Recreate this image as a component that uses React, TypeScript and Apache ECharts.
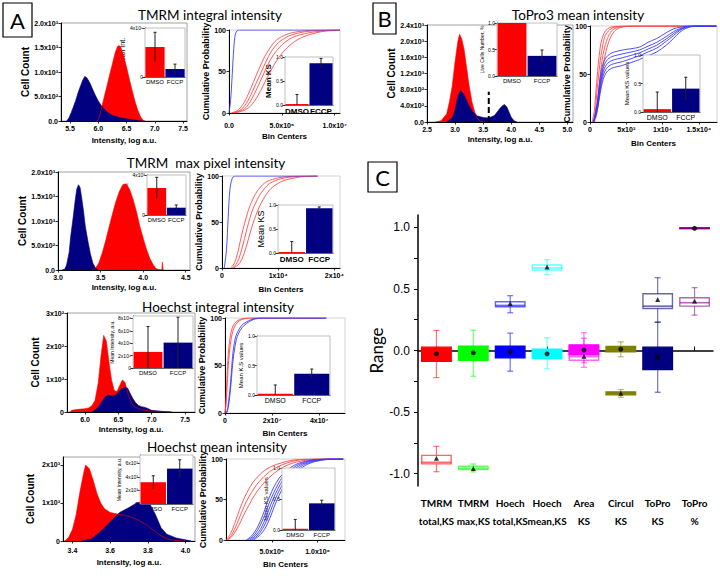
import React, { useEffect, useRef } from "react";
import * as echarts from "echarts";

// ---------------- DATA ----------------
const RED = "#ff0000";
const NAVY = "#000080";
const insetGroups = ["DMSO", "FCCP"];

// Row 1: TMRM integral intensity histogram [log a.u., cell count]
const tmrmIntRed = [[5.98,0],[6.02,80],[6.05,230],[6.1,470],[6.15,700],[6.2,940],[6.25,1170],[6.3,1400],[6.34,1520],[6.37,1540],[6.4,1500],[6.45,1320],[6.5,1100],[6.55,850],[6.6,620],[6.65,400],[6.7,220],[6.75,80],[6.8,10],[6.83,0]];
const tmrmIntBlue = [[5.44,0],[5.48,60],[5.52,170],[5.56,290],[5.6,420],[5.64,570],[5.68,700],[5.72,820],[5.76,910],[5.8,880],[5.85,780],[5.9,650],[5.95,520],[6.0,410],[6.05,320],[6.1,250],[6.15,190],[6.2,150],[6.25,120],[6.3,95],[6.4,65],[6.5,45],[6.6,25],[6.7,10],[6.8,0]];
const tmrmIntMean = [2.45e5, 0.65e5];
const tmrmIntMeanErr = [1.2e5, 0.4e5];
const tmrmIntCdfBlue = [[[0,0],[1.5e5,15],[3e5,45],[4.5e5,78],[6e5,95],[8e5,99.5],[1e6,100],[1.05e7,100]]];
const tmrmIntCdfRed = [
  [[2e5,0],[8e5,3],[1.3e6,10],[1.8e6,22],[2.3e6,37],[2.8e6,52],[3.3e6,66],[3.8e6,77],[4.5e6,88],[5.5e6,95],[6.5e6,98],[8e6,99.6],[1.05e7,100]],
  [[3e5,0],[1e6,3],[1.5e6,9],[2e6,20],[2.5e6,34],[3e6,48],[3.5e6,62],[4e6,74],[4.7e6,85],[5.7e6,93],[7e6,97.5],[8.5e6,99.5],[1.05e7,100]],
  [[4e5,0],[1.2e6,3],[1.7e6,8],[2.2e6,18],[2.7e6,31],[3.2e6,45],[3.7e6,59],[4.2e6,70],[5e6,82],[6e6,91],[7.5e6,96.5],[9e6,99],[1.05e7,100]],
  [[5e5,0],[1.4e6,3],[2e6,8],[2.5e6,16],[3e6,27],[3.5e6,40],[4e6,52],[4.5e6,63],[5.3e6,76],[6.3e6,87],[7.5e6,94],[9e6,98.5],[1.05e7,99.5]],
];
const tmrmIntKS = [0.02, 0.87];
const tmrmIntKSErr = [0.2, 0.1];

// Row 2: TMRM max pixel intensity
const tmrmMaxRed = [[3.4,0],[3.44,30],[3.48,150],[3.52,350],[3.56,600],[3.6,880],[3.64,1150],[3.68,1400],[3.72,1600],[3.76,1740],[3.8,1760],[3.84,1650],[3.88,1450],[3.92,1200],[3.96,900],[4.0,650],[4.04,420],[4.08,230],[4.12,100],[4.15,30],[4.18,10],[4.22,5],[4.225,160],[4.235,0]];
const tmrmMaxBlue = [[3.05,0],[3.08,20],[3.1,100],[3.13,350],[3.15,700],[3.18,1100],[3.2,1400],[3.22,1650],[3.24,1740],[3.26,1680],[3.28,1450],[3.3,1200],[3.32,900],[3.35,600],[3.38,330],[3.41,140],[3.44,40],[3.47,0]];
const tmrmMaxMean = [2.7e3, 0.73e3];
const tmrmMaxMeanErr = [1.07e3, 0.27e3];
const tmrmMaxCdfBlue = [[[4e2,0],[8e2,20],[1.1e3,55],[1.4e3,85],[1.8e3,97],[2.3e3,100],[1.7e4,100]]];
const tmrmMaxCdfRed = [
  [[1.5e3,0],[2e3,3],[2.5e3,10],[3e3,22],[3.5e3,36],[4e3,48],[4.5e3,59],[5e3,68],[6e3,81],[7e3,89],[8e3,94],[1e4,98],[1.2e4,99.5],[1.7e4,100]],
  [[1.8e3,0],[2.4e3,3],[3e3,10],[3.5e3,20],[4e3,32],[4.5e3,44],[5e3,55],[5.5e3,64],[6.5e3,77],[7.5e3,86],[8.5e3,92],[1.05e4,97],[1.3e4,99.3],[1.7e4,100]],
  [[2e3,0],[2.8e3,3],[3.5e3,9],[4e3,17],[4.5e3,27],[5e3,38],[5.5e3,48],[6e3,57],[7e3,71],[8e3,81],[9e3,88],[1.1e4,95],[1.4e4,99],[1.7e4,100]],
];
const tmrmMaxKS = [0.02, 0.93];
const tmrmMaxKSErr = [0.22, 0.03];

// Row 3: Hoechst integral intensity
const hoeIntRed = [[5.78,0],[5.8,5],[5.9,8],[6.0,10],[6.05,12],[6.1,18],[6.15,35],[6.2,90],[6.24,170],[6.28,232],[6.32,215],[6.36,150],[6.4,95],[6.44,65],[6.48,62],[6.52,80],[6.56,97],[6.6,90],[6.64,60],[6.68,35],[6.72,20],[6.8,10],[6.9,5],[7.0,3],[7.2,1],[7.3,0]];
const hoeIntBlue = [[6.1,0],[6.15,5],[6.2,15],[6.25,30],[6.3,45],[6.35,52],[6.4,48],[6.45,50],[6.5,60],[6.55,70],[6.6,76],[6.64,72],[6.68,55],[6.72,40],[6.76,28],[6.8,20],[6.85,16],[6.9,14],[6.95,10],[7.0,5],[7.1,3],[7.2,1],[7.3,0]];
const hoeIntMean = [2.6e6, 4.1e6];
const hoeIntMeanErr = [4.1e6, 4.1e6];
const hoeIntCdfRed = [
  [[0,0],[4e5,12],[8e5,35],[1.2e6,55],[1.6e6,68],[2.2e6,80],[3e6,89],[4e6,94],[5.5e6,97.5],[7e6,99],[9e6,100],[4.3e7,100]],
  [[0,0],[5e5,10],[1e6,32],[1.4e6,50],[1.9e6,64],[2.5e6,76],[3.3e6,86],[4.5e6,93],[6e6,97],[8e6,99],[1e7,100],[4.3e7,100]],
];
const hoeIntCdfBlue = [
  [[6e5,0],[1.2e6,6],[1.8e6,18],[2.4e6,33],[3e6,53],[3.5e6,66],[4.5e6,80],[5.5e6,86],[7e6,92],[8.5e6,95],[1e7,97],[1.2e7,99],[1.5e7,100],[4.3e7,100]],
  [[8e5,0],[1.4e6,6],[2e6,17],[2.6e6,32],[3.2e6,50],[3.8e6,63],[4.8e6,77],[5.8e6,84],[7.3e6,90],[9e6,94],[1.05e7,96.5],[1.25e7,98.8],[1.6e7,100],[4.3e7,100]],
];
const hoeIntKS = [0.02, 0.36];
const hoeIntKSErr = [0.15, 0.08];

// Row 4: Hoechst mean intensity
const hoeMeanRed = [[3.36,0],[3.38,100],[3.4,300],[3.42,700],[3.44,1300],[3.46,1800],[3.47,2000],[3.49,1900],[3.51,1600],[3.53,1250],[3.55,1000],[3.57,850],[3.6,750],[3.65,700],[3.7,650],[3.75,550],[3.8,400],[3.85,200],[3.9,60],[3.95,10],[4.0,0]];
const hoeMeanBlue = [[3.45,0],[3.5,50],[3.55,250],[3.6,500],[3.65,750],[3.7,880],[3.74,1000],[3.78,1050],[3.81,980],[3.84,700],[3.87,350],[3.9,180],[3.95,80],[4.0,30],[4.03,0]];
const hoeMeanMean = [3.2e3, 5.2e3];
const hoeMeanMeanErr = [0.95e3, 1.3e3];
const hoeMeanCdfRed = [
  [[0,0],[5e4,8],[1e5,22],[1.5e5,38],[2e5,52],[2.5e5,63],[3e5,72],[4e5,84],[5e5,91],[6e5,95],[7e5,98],[8e5,99.5],[1e6,100],[1.28e6,100]],
  [[1e4,0],[6e4,6],[1.2e5,20],[1.7e5,34],[2.2e5,47],[2.8e5,59],[3.4e5,69],[4.4e5,81],[5.4e5,89],[6.4e5,94],[7.4e5,97.5],[8.5e5,99.3],[1.05e6,100],[1.28e6,100]],
  [[2e4,0],[7e4,5],[1.4e5,18],[1.9e5,30],[2.5e5,43],[3.1e5,55],[3.8e5,66],[4.8e5,78],[5.8e5,87],[6.8e5,93],[7.8e5,96.5],[9e5,99],[1.1e6,100],[1.28e6,100]],
];
const hoeMeanCdfBlue = [
  [[2.2e5,0],[2.8e5,5],[3.4e5,15],[4e5,30],[4.5e5,46],[5e5,60],[5.5e5,71],[6e5,79],[7e5,89],[8e5,95],[9e5,98],[1e6,99.5],[1.1e6,100],[1.28e6,100]],
  [[2.4e5,0],[3e5,5],[3.6e5,15],[4.2e5,30],[4.7e5,45],[5.2e5,58],[5.7e5,69],[6.2e5,78],[7.2e5,88],[8.2e5,94.5],[9.2e5,97.8],[1.02e6,99.4],[1.12e6,100],[1.28e6,100]],
  [[2.6e5,0],[3.2e5,5],[3.8e5,14],[4.4e5,29],[4.9e5,44],[5.4e5,57],[5.9e5,68],[6.4e5,77],[7.4e5,87],[8.4e5,94],[9.4e5,97.5],[1.04e6,99.3],[1.14e6,100],[1.28e6,100]],
  [[2.8e5,0],[3.4e5,5],[4e5,14],[4.6e5,28],[5.1e5,43],[5.6e5,56],[6.1e5,67],[6.6e5,76],[7.6e5,86],[8.6e5,93.5],[9.6e5,97.2],[1.06e6,99.2],[1.16e6,100],[1.28e6,100]],
  [[3e5,0],[3.6e5,5],[4.2e5,13],[4.8e5,27],[5.3e5,42],[5.8e5,55],[6.3e5,66],[6.8e5,75],[7.8e5,85],[8.8e5,93],[9.8e5,97],[1.08e6,99],[1.18e6,100],[1.28e6,100]],
];
const hoeMeanKS = [0.02, 0.43];
const hoeMeanKSErr = [0.15, 0.05];

// Panel B: ToPro3 mean intensity
const toproRed = [[2.65,0],[2.75,30],[2.85,200],[2.9,500],[2.95,900],[3.0,1500],[3.05,2000],[3.08,2170],[3.12,2050],[3.16,1800],[3.2,1400],[3.25,900],[3.3,500],[3.35,250],[3.4,80],[3.45,20],[3.5,0]];
const toproBlue = [[2.85,0],[2.95,100],[3.0,300],[3.05,650],[3.1,780],[3.15,700],[3.2,550],[3.25,400],[3.3,280],[3.35,200],[3.4,150],[3.5,110],[3.6,100],[3.7,160],[3.75,250],[3.8,340],[3.85,410],[3.88,430],[3.92,380],[3.96,250],[4.0,120],[4.05,30],[4.1,0]];
const toproThreshold = [[3.6,0],[3.6,750]];
const toproLive = [1.0, 0.38];
const toproLiveErr = [0.01, 0.11];
const toproCdfRed = [
  [[3e2,0],[6e2,12],[9e2,40],[1.2e3,65],[1.5e3,82],[1.9e3,92],[2.4e3,97],[3e3,99],[4e3,99.8],[5e3,100],[1.74e4,100]],
  [[4e2,0],[7e2,10],[1e3,35],[1.35e3,60],[1.7e3,78],[2.1e3,90],[2.7e3,96],[3.4e3,98.8],[4.4e3,99.8],[5.5e3,100],[1.74e4,100]],
  [[5e2,0],[8e2,8],[1.15e3,30],[1.5e3,55],[1.9e3,74],[2.4e3,87],[3e3,95],[3.8e3,98.5],[4.8e3,99.7],[6e3,100],[1.74e4,100]],
  [[6e2,0],[9e2,7],[1.25e3,26],[1.65e3,50],[2.1e3,70],[2.6e3,84],[3.3e3,94],[4.1e3,98.2],[5.2e3,99.6],[6.5e3,100],[1.74e4,100]],
];
const toproCdfBlue = [
  [[5e2,0],[1e3,12],[1.4e3,30],[1.8e3,44],[2.3e3,52],[3e3,56],[4.5e3,59],[6.8e3,65],[8e3,69],[9.2e3,73],[1.05e4,80],[1.15e4,87],[1.23e4,93],[1.32e4,97.5],[1.42e4,99.6],[1.5e4,100],[1.74e4,100]],
  [[5e2,0],[1e3,14],[1.4e3,34],[1.8e3,48],[2.3e3,56],[3e3,60],[4.5e3,63],[6.8e3,69],[8e3,73],[9.2e3,77],[1.05e4,84],[1.15e4,90],[1.23e4,95],[1.32e4,98.5],[1.42e4,99.8],[1.5e4,100],[1.74e4,100]],
  [[5e2,0],[1e3,16],[1.4e3,38],[1.8e3,52],[2.3e3,60],[3e3,64],[4.5e3,67],[6.8e3,72],[8e3,76],[9.2e3,80],[1.05e4,86.5],[1.15e4,92],[1.23e4,96],[1.32e4,99],[1.42e4,99.9],[1.5e4,100],[1.74e4,100]],
  [[5e2,0],[1e3,18],[1.4e3,42],[1.8e3,56],[2.3e3,64],[3e3,68],[4.5e3,71],[6.8e3,75],[8e3,79],[9.2e3,83],[1.05e4,89],[1.15e4,94],[1.23e4,97],[1.32e4,99.3],[1.42e4,100],[1.5e4,100],[1.74e4,100]],
  [[5e2,0],[1e3,20],[1.4e3,46],[1.8e3,61],[2.3e3,68],[3e3,72],[4.5e3,75],[6.8e3,78],[8e3,83],[9.2e3,87],[1.05e4,93],[1.15e4,97],[1.23e4,98.5],[1.32e4,99.6],[1.42e4,100],[1.5e4,100],[1.74e4,100]],
];
const toproKS = [0.05, 0.41];
const toproKSErr = [0.3, 0.2];

// Panel C: box plot of ranges
const boxCategories = ["TMRM\ntotal,KS", "TMRM\nmax,KS", "Hoech\ntotal,KS", "Hoech\nmean,KS", "Area\nKS", "Circul\nKS", "ToPro\nKS", "ToPro\n%"];
const boxColors = ["#ff0000", "#00ff00", "#0000ff", "#00ffff", "#ff00ff", "#808000", "#000080", "#800080"];
// [min, q1, median, q3, max]
const boxNearStats = [
  [-0.22, -0.087, -0.03, 0.027, 0.163],
  [-0.209, -0.079, -0.02, 0.035, 0.165],
  [-0.168, -0.06, -0.01, 0.035, 0.141],
  [-0.149, -0.065, -0.025, 0.011, 0.103],
  [-0.1, -0.035, 0.0, 0.046, 0.144],
  [-0.051, -0.011, 0.01, 0.033, 0.07],
  [-0.339, -0.154, -0.06, 0.027, 0.23],
  [0.986, 0.989, 0.992, 0.996, 0.998],
];
const boxNearMeans = [-0.027, -0.019, -0.011, -0.027, 0.003, 0.011, -0.054, 0.992];
const boxFarStats = [
  [-0.984, -0.92, -0.908, -0.851, -0.778],
  [-0.986, -0.967, -0.957, -0.94, -0.921],
  [0.306, 0.355, 0.366, 0.396, 0.445],
  [0.615, 0.653, 0.67, 0.694, 0.737],
  [-0.136, -0.079, -0.05, 0.03, 0.1],
  [-0.38, -0.36, -0.348, -0.336, -0.317],
  [0.23, 0.341, 0.36, 0.461, 0.591],
  [0.287, 0.36, 0.388, 0.428, 0.51],
];
const boxFarMeans = [-0.875, -0.957, 0.382, 0.677, -0.046, -0.347, 0.415, 0.401];
const boxFarFilled = [false, false, false, false, false, true, false, false];
const rangeTicks = [-1.0, -0.5, 0.0, 0.5, 1.0];

// ---------------- HELPERS ----------------
const AF = "Liberation Sans";
const TF = "Lato";
const SUP: Record<string, string> = { "0": "⁰", "1": "¹", "2": "²", "3": "³", "4": "⁴", "5": "⁵", "6": "⁶", "7": "⁷", "8": "⁸", "9": "⁹", "-": "⁻" };
function sci(v: number, dec: number, zero = "0") {
  if (v === 0) return zero;
  const e = Math.floor(Math.log10(Math.abs(v)) + 1e-9);
  const m = v / Math.pow(10, e);
  return m.toFixed(dec) + "x10" + String(e).split("").map((c) => SUP[c]).join("");
}
function hexA(hex: string, a: number) {
  const n = parseInt(hex.slice(1), 16);
  return `rgba(${(n >> 16) & 255},${(n >> 8) & 255},${n & 255},${a})`;
}

function buildOption() {
  const G: any[] = [], XA: any[] = [], YA: any[] = [], S: any[] = [], GR: any[] = [];

  function addGrid(l: number, t: number, r: number, b: number, x: any, y: any, bg?: string, border = "#8a8a8a") {
    const i = G.length;
    G.push({ left: l, top: t, width: r - l, height: b - t, show: true, borderColor: border, borderWidth: 0.8, backgroundColor: bg || "rgba(0,0,0,0)", outerBoundsMode: "none", z: bg ? 3 : 0 });
    XA.push({ gridIndex: i, ...x });
    YA.push({ gridIndex: i, ...y });
    return i;
  }
  function vAxis(min: number, max: number, labels: number[], fmt: (v: number) => string, o: any = {}) {
    return {
      type: "value", min, max,
      axisLine: { show: true, onZero: false, lineStyle: { color: "#000", width: 1 } },
      axisTick: { show: true, customValues: o.ticks || labels, length: 2.5, lineStyle: { color: "#000", width: 0.8 } },
      axisLabel: { customValues: labels, formatter: fmt, fontFamily: AF, fontSize: o.fs || 7, fontWeight: o.normal ? "normal" : "bold", color: "#000", margin: o.margin ?? 3, hideOverlap: false, showMinLabel: true, showMaxLabel: true },
      splitLine: { show: false },
      name: o.name, nameLocation: "middle", nameGap: o.gap, nameRotate: o.rot,
      nameTextStyle: { fontFamily: AF, fontWeight: o.nnormal ? "normal" : "bold", fontSize: o.nfs || 9, color: "#000" },
      z: o.z,
    };
  }
  function cAxis(bold: boolean, fs = 6) {
    return {
      type: "category", data: insetGroups,
      axisLine: { show: true, lineStyle: { color: "#000", width: 0.8 } },
      axisTick: { show: false },
      axisLabel: { fontFamily: AF, fontSize: fs, fontWeight: bold ? "bold" : "normal", color: "#000", margin: 2, interval: 0 },
      splitLine: { show: false },
    };
  }
  function addHist(rect: number[], xr: number[], xl: number[], xfmt: any, ymax: number, yl: number[], yfmt: any, red: number[][], blue: number[][], o: any) {
    const i = addGrid(rect[0], rect[1], rect[2], rect[3],
      vAxis(xr[0], xr[1], xl, xfmt, { name: "Intensity, log a.u.", gap: o.xgap, nfs: 8, margin: o.xm ?? 4 }),
      vAxis(0, ymax, yl, yfmt, { name: "Cell Count", gap: o.ygap, nfs: 10 }));
    S.push({ type: "line", xAxisIndex: i, yAxisIndex: i, data: red, showSymbol: false, lineStyle: { width: 0.6, color: RED }, areaStyle: { color: RED, opacity: 1 }, z: 2 });
    S.push({ type: "line", xAxisIndex: i, yAxisIndex: i, data: blue, showSymbol: false, lineStyle: { width: 0.6, color: NAVY }, areaStyle: { color: NAVY, opacity: 1 }, z: 2 });
    return i;
  }
  function addBars(rect: number[], vals: number[], errs: number[], ymax: number, yl: number[], yfmt: any, o: any) {
    const i = addGrid(rect[0], rect[1], rect[2], rect[3], cAxis(!!o.bold, o.cfs || 6),
      vAxis(0, ymax, yl, yfmt, { name: o.name, gap: o.gap, nfs: o.nfs || 6, fs: o.fs || 5, normal: true, nnormal: !o.nbold, ticks: o.ticks, margin: 2 }), "#ffffff", "#b0b0b0");
    S.push({ type: "bar", xAxisIndex: i, yAxisIndex: i, barCategoryGap: "4%", z: 4,
      data: vals.map((v, k) => ({ value: v, itemStyle: { color: k ? NAVY : RED } })) });
    S.push({
      type: "custom", xAxisIndex: i, yAxisIndex: i, z: 6, clip: true,
      data: vals.map((v, k) => [k, v, errs[k]]),
      renderItem: (_p: any, api: any) => {
        const k = api.value(0), v = api.value(1), e = api.value(2);
        const t = api.coord([k, v + e]);
        const b = api.coord([k, v - e]);
        return { type: "group", children: [
          { type: "line", shape: { x1: t[0], y1: t[1], x2: b[0], y2: b[1] }, style: { stroke: "#222", lineWidth: 1 } },
          { type: "line", shape: { x1: t[0] - 1.5, y1: t[1], x2: t[0] + 1.5, y2: t[1] }, style: { stroke: "#222", lineWidth: 1 } },
        ] };
      },
    });
    return i;
  }
  function addCdf(rect: number[], xmax: number, xl: number[], xfmt: any, reds: number[][][], blues: number[][][], o: any) {
    const i = addGrid(rect[0], rect[1], rect[2], rect[3],
      vAxis(0, xmax, xl, xfmt, { name: "Bin Centers", gap: o.xgap, nfs: 8, margin: o.xm ?? 4 }),
      vAxis(0, 100, [0, 50, 100], (v: number) => String(v), { name: "Cumulative Probability", gap: o.ygap, nfs: 9 }), undefined, "#c8c8c8");
    reds.forEach((d) => S.push({ type: "line", xAxisIndex: i, yAxisIndex: i, data: d, smooth: 0.3, showSymbol: false, lineStyle: { width: 0.9, color: "#ff4a4a" }, z: 2 }));
    blues.forEach((d) => S.push({ type: "line", xAxisIndex: i, yAxisIndex: i, data: d, smooth: 0.3, showSymbol: false, lineStyle: { width: 0.9, color: "#3a3aff" }, z: 2 }));
    return i;
  }
  const f1 = (v: number) => v.toFixed(1);
  const ks = (v: number) => v.toFixed(1);

  // ---------- Row 1 ----------
  addHist([61, 23, 187, 121], [5.34, 7.57], [5.5, 6, 6.5, 7, 7.5], f1, 2000, [0, 500, 1000, 1500, 2000], (v: number) => sci(v, 1, "0.0"), tmrmIntRed, tmrmIntBlue, { xgap: 15, ygap: 30 });
  addBars([145, 28, 185, 77], tmrmIntMean, tmrmIntMeanErr, 4e5, [0, 4e5], (v: number) => sci(v, 0), { name: "Mean Int.", gap: 6, nfs: 7 });
  addCdf([229, 30, 340, 113], 1.05e7, [0, 5e6, 1e7], (v: number) => sci(v, 1, "0.0"), tmrmIntCdfRed, tmrmIntCdfBlue, { xgap: 19, ygap: 16, xm: 9 });
  addBars([285, 57, 333, 105], tmrmIntKS, tmrmIntKSErr, 1, [0, 0.5, 1], ks, { name: "Mean KS", gap: 9, nfs: 8, nbold: true, bold: true, cfs: 8 });

  // ---------- Row 2 ----------
  addHist([58, 172, 190, 270], [3.0, 4.55], [3.0, 3.5, 4.0, 4.5], f1, 2000, [0, 500, 1000, 1500, 2000], (v: number) => sci(v, 1, "0.0"), tmrmMaxRed, tmrmMaxBlue, { xgap: 13, ygap: 28 });
  addBars([147, 175, 186, 215], tmrmMaxMean, tmrmMaxMeanErr, 4e3, [0, 4e3], (v: number) => sci(v, 0), { name: "Mean Int.", gap: 6, nfs: 6 });
  addCdf([222, 176, 340, 268], 2.1e4, [0, 1e4, 2e4], (v: number) => sci(v, 0), tmrmMaxCdfRed, tmrmMaxCdfBlue, { xgap: 17, ygap: 14 });
  addBars([278, 205, 333, 253], tmrmMaxKS, tmrmMaxKSErr, 1, [0, 0.5, 1], ks, { name: "Mean KS", gap: 9, nfs: 9, bold: true, cfs: 8 });

  // ---------- Row 3 ----------
  addHist([67, 313, 195, 412], [5.73, 7.65], [6.0, 6.5, 7.0, 7.5], f1, 300, [0, 100, 200, 300], (v: number) => sci(v, 0), hoeIntRed, hoeIntBlue, { xgap: 13, ygap: 27 });
  addBars([133, 316, 193, 368], hoeIntMean, hoeIntMeanErr, 8.4e6, [0, 2e6, 4e6, 6e6, 8e6], (v: number) => sci(v, 0), { name: "Mean Intensity, a.u.", gap: 14, nfs: 5 });
  addCdf([225, 318, 345, 413], 5.1e7, [0, 2e7, 4e7], (v: number) => sci(v, 0), hoeIntCdfRed, hoeIntCdfBlue, { xgap: 16, ygap: 14 });
  addBars([257, 336, 330, 395], hoeIntKS, hoeIntKSErr, 1, [0, 0.5, 1], ks, { name: "Mean K.S values", gap: 8, nfs: 6, cfs: 7 });

  // ---------- Row 4 ----------
  addHist([63, 457, 195, 541], [3.35, 4.05], [3.4, 3.6, 3.8, 4.0], f1, 2210, [0, 1000, 2000], (v: number) => sci(v, 0), hoeMeanRed, hoeMeanBlue, { xgap: 17, ygap: 28, xm: 6 });
  addBars([140, 455, 193, 504], hoeMeanMean, hoeMeanMeanErr, 7.2e3, [0, 2e3, 4e3, 6e3], (v: number) => sci(v, 0), { name: "Mean Intensity, a.u.", gap: 13, nfs: 5 });
  addCdf([226, 459, 345, 540], 1.3e6, [5e5, 1e6], (v: number) => sci(v, 1), hoeMeanCdfRed, hoeMeanCdfBlue, { xgap: 20, ygap: 14, xm: 8 });
  addBars([282, 468, 335, 530], hoeMeanKS, hoeMeanKSErr, 1, [0, 0.5, 1], ks, { name: "Mean KS values", gap: 8, nfs: 6, cfs: 6 });

  // ---------- Panel B ----------
  const hb = addHist([427, 25, 573, 122], [2.5, 5.1], [2.5, 3.0, 3.5, 4.0, 4.5, 5.0], f1, 2400, [0, 400, 800, 1200, 1600, 2000, 2400], (v: number) => sci(v, 1, "0.0"), toproRed, toproBlue, { xgap: 13, ygap: 30 });
  S.push({ type: "line", xAxisIndex: hb, yAxisIndex: hb, data: toproThreshold, showSymbol: false, lineStyle: { width: 2, color: "#000", type: [6, 3] }, z: 5 });
  addBars([497, 23, 557, 76], toproLive, toproLiveErr, 1, [0, 0.5, 1], ks, { name: "Live Cells Number, %", gap: 8, nfs: 5, cfs: 6 });
  addCdf([590, 26, 717, 122], 1.75e4, [0, 5e3, 1e4, 1.5e4], (v: number) => sci(v, v >= 1.5e4 ? 1 : 0), toproCdfRed, toproCdfBlue, { xgap: 17, ygap: 15 });
  addBars([643, 55, 700, 112], toproKS, toproKSErr, 1, [0, 0.5, 1], ks, { name: "Mean KS values", gap: 8, nfs: 6, cfs: 7 });

  // ---------- Panel C ----------
  const bi = G.length;
  G.push({ left: 418, top: 215, width: 295, height: 271, show: false, outerBoundsMode: "none" });
  XA.push({
    gridIndex: bi, type: "category", data: boxCategories,
    axisLine: { show: true, lineStyle: { color: "#000", width: 1.5 } },
    axisTick: { show: true, inside: true, alignWithLabel: true, length: 4, lineStyle: { color: "#000" } },
    axisLabel: { interval: 0, fontFamily: TF, fontWeight: "bold", fontSize: 10, lineHeight: 18, color: "#000", margin: 8 },
    splitLine: { show: false },
  });
  YA.push({
    gridIndex: bi, type: "value", min: -1.1, max: 1.1,
    axisLine: { show: true, onZero: false, lineStyle: { color: "#000", width: 1.5 } },
    axisTick: { show: true, length: 4, customValues: [-1, -0.75, -0.5, -0.25, 0, 0.25, 0.5, 0.75, 1], lineStyle: { color: "#000" } },
    axisLabel: { customValues: rangeTicks, formatter: (v: number) => v.toFixed(1), fontFamily: AF, fontSize: 12, color: "#000", margin: 8 },
    splitLine: { show: false },
    name: "Range", nameLocation: "middle", nameGap: 26, nameTextStyle: { fontFamily: TF, fontSize: 17, color: "#000" },
  });
  const boxRender = (stats: number[][], filled: boolean[], thickMedian: boolean, hollowAlpha: number) => (params: any, api: any) => {
    const i = params.dataIndex;
    const c = api.value(0);
    const p = [1, 2, 3, 4, 5].map((k) => api.coord([c, api.value(k)]));
    const band = api.size([1, 0])[0];
    const w = band * 0.8, cap = 3;
    const x = p[0][0];
    const col = boxColors[i];
    const isF = filled[i];
    const wc = hexA(col, 0.55);
    const bc = isF ? col : hexA(col, hollowAlpha);
    const kids: any[] = [
      { type: "line", shape: { x1: x, y1: p[0][1], x2: x, y2: p[1][1] }, style: { stroke: wc, lineWidth: 1.2 } },
      { type: "line", shape: { x1: x, y1: p[3][1], x2: x, y2: p[4][1] }, style: { stroke: wc, lineWidth: 1.2 } },
      { type: "line", shape: { x1: x - cap, y1: p[0][1], x2: x + cap, y2: p[0][1] }, style: { stroke: wc, lineWidth: 1.2 } },
      { type: "line", shape: { x1: x - cap, y1: p[4][1], x2: x + cap, y2: p[4][1] }, style: { stroke: wc, lineWidth: 1.2 } },
      { type: "rect", shape: { x: x - w / 2, y: p[3][1], width: w, height: Math.max(p[1][1] - p[3][1], 0.5) }, style: { fill: isF ? col : "rgba(255,255,255,0)", stroke: bc, lineWidth: 1.4 } },
    ];
    if (thickMedian && !isF) kids.push({ type: "line", shape: { x1: x - w / 2, y1: p[2][1], x2: x + w / 2, y2: p[2][1] }, style: { stroke: bc, lineWidth: 1.6 } });
    return { type: "group", children: kids };
  };
  S.push({ type: "custom", xAxisIndex: bi, yAxisIndex: bi, z: 3, data: boxFarStats.map((s, k) => [k, ...s]), renderItem: boxRender(boxFarStats, boxFarFilled, true, 0.6) });
  S.push({ type: "custom", xAxisIndex: bi, yAxisIndex: bi, z: 4, data: boxNearStats.map((s, k) => [k, ...s]), renderItem: boxRender(boxNearStats, boxNearStats.map(() => true), false, 1) });
  S.push({ type: "scatter", xAxisIndex: bi, yAxisIndex: bi, z: 6, symbol: "triangle", symbolSize: 5, itemStyle: { color: "#000" }, data: boxFarMeans.map((m, k) => [k, m]) });
  S.push({ type: "scatter", xAxisIndex: bi, yAxisIndex: bi, z: 6, symbol: "circle", symbolSize: 5, itemStyle: { color: "#000" }, data: boxNearMeans.map((m, k) => [k, m]) });

  // ---------- graphics: titles and panel labels ----------
  const title = (text: string, x: number, y: number) => GR.push({ type: "text", x, y, style: { text, font: `13.5px ${TF}`, fill: "#000", textAlign: "center", textVerticalAlign: "middle" }, z: 10 });
  title("TMRM integral intensity", 210, 15);
  title("TMRM  max pixel intensity", 206, 163);
  title("Hoechst integral intensity", 218, 307);
  title("Hoechst mean intensity", 217, 447);
  title("ToPro3 mean intensity", 578, 15);
  const panel = (t: string, x: number, y: number, w: number, h: number) => {
    GR.push({ type: "rect", shape: { x, y, width: w, height: h }, style: { fill: "#fff", stroke: "#000", lineWidth: 1.2 }, z: 10 });
    GR.push({ type: "text", x: x + w / 2, y: y + h / 2, style: { text: t, font: `22px ${TF}`, fill: "#000", textAlign: "center", textVerticalAlign: "middle" }, z: 11 });
  };
  panel("A", 3, 3, 29, 34);
  panel("B", 373, 3, 23, 31);
  panel("C", 368, 162, 29, 30);

  return {
    animation: false,
    backgroundColor: "#fff",
    grid: G, xAxis: XA, yAxis: YA, series: S, graphic: GR,
  };
}

export default function App() {
  const ref = useRef<HTMLDivElement>(null);
  useEffect(() => {
    if (!ref.current) return;
    const chart = echarts.init(ref.current, undefined, { renderer: "svg" });
    chart.setOption(buildOption() as any);
    return () => chart.dispose();
  }, []);
  return <div ref={ref} style={{ position: "absolute", left: 0, top: 0, width: 720, height: 576 }} />;
}
